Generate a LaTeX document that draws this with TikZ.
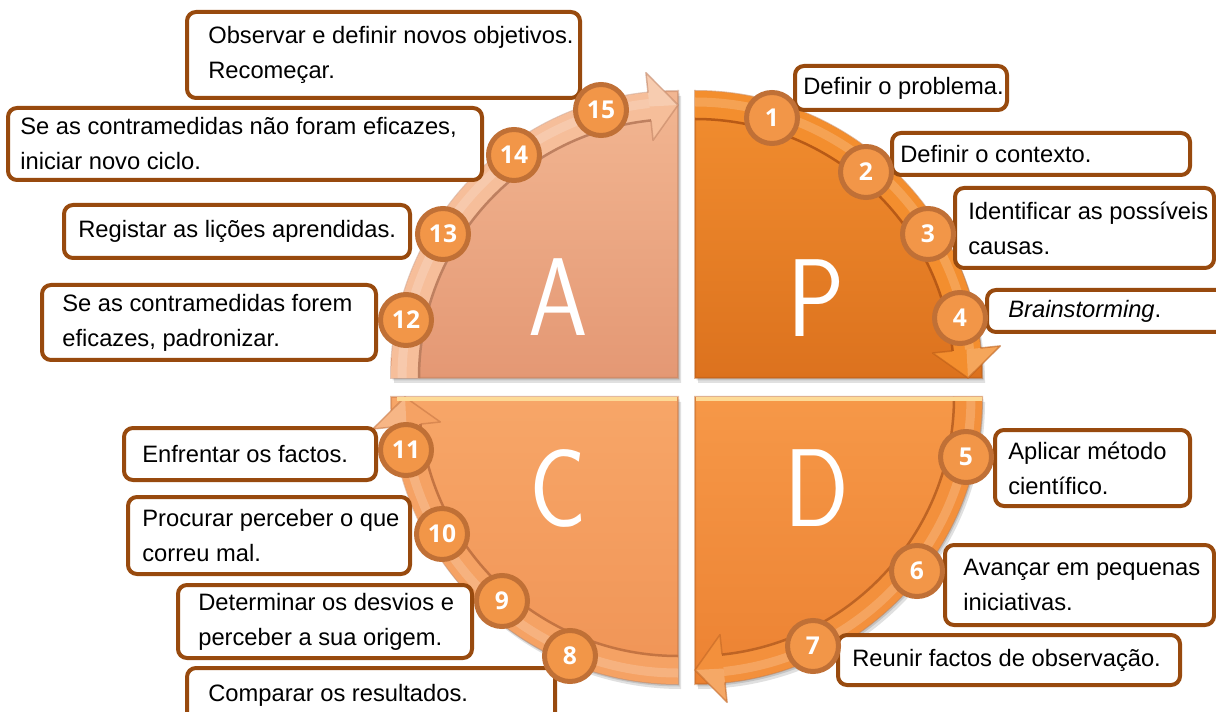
\documentclass[tikz,border=0pt]{standalone}
\usepackage{fontspec}
\usepackage{graphicx}
\setmainfont{Liberation Sans}
\newfontfamily\numfam{Open Sans}
\newdimen\pxu \pxu=0.02cm

% box and badge colours
\definecolor{boxedge}{RGB}{152,74,14}
\definecolor{numfill}{RGB}{242,150,72}
\definecolor{numedge}{RGB}{192,112,54}
\definecolor{rimlight}{RGB}{253,218,150}
% quadrant colours: body top/bottom, band, band edge
\definecolor{pTop}{RGB}{242,142,48}
\definecolor{pBot}{RGB}{220,114,30}
\definecolor{pBand}{RGB}{243,142,46}
\definecolor{pDark}{RGB}{184,90,22}
\definecolor{dTop}{RGB}{246,152,72}
\definecolor{dBot}{RGB}{236,130,50}
\definecolor{dBand}{RGB}{243,144,60}
\definecolor{dDark}{RGB}{190,100,36}
\definecolor{cTop}{RGB}{247,166,104}
\definecolor{cBot}{RGB}{240,148,86}
\definecolor{cBand}{RGB}{245,162,100}
\definecolor{cDark}{RGB}{196,116,66}
\definecolor{aTop}{RGB}{242,182,146}
\definecolor{aBot}{RGB}{228,152,116}
\definecolor{aBand}{RGB}{246,190,154}
\definecolor{aDark}{RGB}{190,128,96}

\tikzset{
  tbox/.style={draw=boxedge, line width=4\pxu, rounded corners=9\pxu, fill=white, inner sep=0pt},
  tlabel/.style={inner sep=0pt, align=left, text=black,
    font=\fontsize{13.5pt}{19.9pt}\selectfont},
  badge/.style={circle, fill=numfill, draw=numedge, line width=5\pxu,
    minimum size=51\pxu, inner sep=0pt, text=white,
    font=\numfam\bfseries\fontsize{14pt}{14pt}\selectfont},
  letter/.style={inner sep=0pt, text=white,
    font=\sffamily\fontsize{63pt}{63pt}\selectfont}
}

% rounded text box: name, x1, y1, x2, y2, text start x, text
\newcommand\stepbox[7]{%
  \pgfmathsetlengthmacro\bw{(#4-#2)*\pxu}%
  \pgfmathsetlengthmacro\bh{(#5-#3)*\pxu}%
  \node[tbox, minimum width=\bw, minimum height=\bh] (#1) at ({(#2+#4)/2},{(#3+#5)/2}) {};
  \node[tlabel, anchor=west] (#1t) at (#6,{(#3+#5)/2}) {#7};}

\newcommand\narrowletter[1]{\scalebox{0.86}[1]{#1}}

\begin{document}
\begin{tikzpicture}[x=0.02cm, y=-0.02cm]
\path[use as bounding box] (0,0) rectangle (1216,712);
\clip (0,0) rectangle (1216,712);
\fill[white] (0,0) rectangle (1216,712);

% soft shadows under the four quarter discs
\foreach \cx/\cy/\qa in {695/378/270, 695/397/0, 678/397/90, 678/378/180} {
  \pgfmathsetmacro\qb{\qa+90}
  \begin{scope}[shift={(\cx+3,\cy+5)}]
    \fill[black, opacity=0.12] (0,0) -- (\qa:287) arc[start angle=\qa, end angle=\qb, radius=287] -- cycle;
  \end{scope}
  \begin{scope}[shift={(\cx+1.5,\cy+2.5)}]
    \fill[black, opacity=0.12] (0,0) -- (\qa:287) arc[start angle=\qa, end angle=\qb, radius=287] -- cycle;
  \end{scope}
}

% quarter discs with their curved arrow bands
\foreach \cx/\cy/\qa/\tc/\bc/\fc/\dc in {
    695/378/270/pTop/pBot/pBand/pDark,
    695/397/0/dTop/dBot/dBand/dDark,
    678/397/90/cTop/cBot/cBand/cDark,
    678/378/180/aTop/aBot/aBand/aDark} {
  \pgfmathsetmacro\qb{\qa+90}
  \pgfmathsetmacro\qh{\qa+84}
  \begin{scope}[shift={(\cx,\cy)}]
    \shade[top color=\tc, bottom color=\bc]
      (0,0) -- (\qa:287) arc[start angle=\qa, end angle=\qb, radius=287] -- cycle;
    \draw[\dc, opacity=0.45, line width=2\pxu]
      (0,0) -- (\qa:287) arc[start angle=\qa, end angle=\qb, radius=287] -- cycle;
    % band with arrowhead
    \fill[\fc] (\qa:287) arc[start angle=\qa, end angle=\qh, radius=287]
      -- (\qh:307) -- (\qb:273) -- (\qh:239) -- (\qh:259)
      arc[start angle=\qh, end angle=\qa, radius=259] -- cycle;
    % rounded look: light crest along the band, lit upper face of the head
    \draw[white, opacity=0.18, line width=9\pxu]
      (\qa:276) arc[start angle=\qa, end angle=\qh, radius=276];
    \fill[white, opacity=0.22] (\qh:307) -- (\qb:273) -- (\qh:273) -- cycle;
    \draw[\dc, opacity=0.55, line width=1.5\pxu, line join=round]
      (\qh:287) -- (\qh:307) -- (\qb:273) -- (\qh:239) -- (\qh:259);
    \draw[\dc, line width=2.5\pxu]
      (\qa:259) arc[start angle=\qa, end angle=\qh, radius=259];
  \end{scope}
}

% pale rim along the upper edge of the two lower discs
\draw[rimlight, line width=4\pxu] (397,399) -- (677,399);
\draw[rimlight, line width=4\pxu] (696,399) -- (982,399);

% phase letters
\node[letter] (lp) at (816,298) {\narrowletter{P}};
\node[letter] (ld) at (817,488) {\narrowletter{D}};
\node[letter] (lc) at (558,488) {\narrowletter{C}};
\node[letter] (la) at (558,297) {\narrowletter{A}};

% step descriptions
\stepbox{b1}{795}{66}{1007}{110}{803}{Definir o problema.}
\stepbox{b2}{892}{133}{1190}{175}{900}{Definir o contexto.}
\stepbox{b3}{955}{188}{1214}{268}{968}{Identificar as possíveis\\causas.}
\stepbox{b4}{987}{290}{1226}{332}{1008}{\textit{Brainstorming}.}
\stepbox{b5}{995}{430}{1190}{506}{1008}{Aplicar método\\científico.}
\stepbox{b6}{945}{545}{1214}{625}{963}{Avançar em pequenas\\iniciativas.}
\stepbox{b7}{838}{635}{1180}{685}{852}{Reunir factos de observação.}
\stepbox{b8}{187}{668}{555}{722}{208}{Comparar os resultados.}
\stepbox{b9}{178}{585}{472}{658}{198}{Determinar os desvios e\\perceber a sua origem.}
\stepbox{b10}{128}{497}{410}{574}{142}{Procurar perceber o que\\correu mal.}
\stepbox{b11}{124}{428}{376}{480}{142}{Enfrentar os factos.}
\stepbox{b12}{42}{285}{376}{360}{62}{Se as contramedidas forem\\eficazes, padronizar.}
\stepbox{b13}{64}{205}{410}{258}{78}{Registar as lições aprendidas.}
\stepbox{b14}{8}{108}{482}{180}{20}{Se as contramedidas não foram eficazes,\\iniciar novo ciclo.}
\stepbox{b15}{187}{12}{580}{98}{208}{Observar e definir novos objetivos.\\Recomeçar.}

% numbered badges along the cycle
\node[badge] (n1) at (772,118) {1};
\node[badge] (n2) at (866,172) {2};
\node[badge] (n3) at (928,234) {3};
\node[badge] (n4) at (960,318) {4};
\node[badge] (n5) at (966,457) {5};
\node[badge] (n6) at (917,571) {6};
\node[badge] (n7) at (813,646) {7};
\node[badge] (n8) at (570,656) {8};
\node[badge] (n9) at (502,601) {9};
\node[badge] (n10) at (442,534) {10};
\node[badge] (n11) at (406,450) {11};
\node[badge] (n12) at (406,320) {12};
\node[badge] (n13) at (443,234) {13};
\node[badge] (n14) at (514,155) {14};
\node[badge] (n15) at (601,110) {15};
\end{tikzpicture}
\end{document}
